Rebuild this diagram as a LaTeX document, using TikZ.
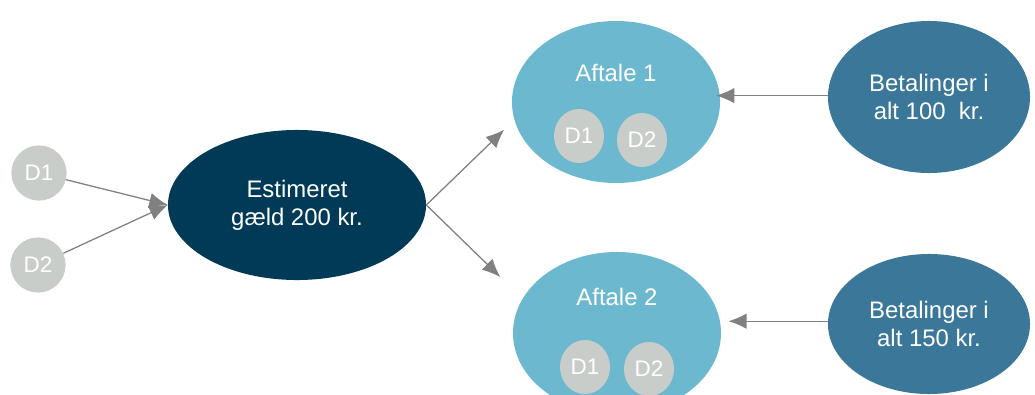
\documentclass[tikz,border=0pt]{standalone}
\usepackage{fontspec}
\setmainfont{Liberation Sans}
\usepackage{tikz}
\usetikzlibrary{shapes.geometric,arrows.meta}
\definecolor{navy}{HTML}{003A57}
\definecolor{skyblue}{HTML}{6CB9CF}
\definecolor{steelblue}{HTML}{3A7798}
\definecolor{lightgray}{HTML}{C9CDCA}
\definecolor{arrowgray}{HTML}{808080}

\begin{document}
\begin{tikzpicture}[
  x=0.025cm, y=-0.025cm,
  debt/.style={circle, fill=lightgray, minimum size=1.38cm, inner sep=0pt, text=white, font=\fontsize{16}{19}\selectfont},
  smalldebt/.style={ellipse, fill=lightgray, minimum width=1.25cm, minimum height=1.35cm, inner sep=0pt, text=white, font=\fontsize{16}{19}\selectfont},
  total/.style={ellipse, fill=navy, minimum width=6.45cm, minimum height=3.75cm, inner sep=0pt, align=center, text=white, font=\fontsize{17}{20}\selectfont},
  deal/.style={ellipse, fill=skyblue, minimum width=5.2cm, minimum height=4.05cm, inner sep=0pt},
  dealtitle/.style={text=white, inner sep=0pt, font=\fontsize{17}{20}\selectfont},
  pay/.style={ellipse, fill=steelblue, minimum width=5.05cm, minimum height=3.5cm, inner sep=0pt, align=center, text=white, font=\fontsize{17}{20}\selectfont},
  arrow/.style={-{Latex[length=13pt,width=11pt]}, draw=arrowgray, fill=arrowgray, line width=0.9pt}
]
\useasboundingbox (0,0) rectangle (1035,395);

\node[debt] (dl1) at (39,173) {D1};
\node[debt] (dl2) at (38,265) {D2};
\node[total] (est) at (297,205) {Estimeret\\gæld 200 kr.};

\node[deal] (aft1) at (616,102) {};
\node[dealtitle] (aft1t) at (616,73) {Aftale 1};
\node[smalldebt] (a1d1) at (579,136) {D1};
\node[smalldebt] (a1d2) at (642,140) {D2};

\node[deal] (aft2) at (617,333) {};
\node[dealtitle] (aft2t) at (617,297) {Aftale 2};
\node[smalldebt] (a2d1) at (585,367) {D1};
\node[smalldebt] (a2d2) at (649,369) {D2};

\node[pay, minimum height=3.8cm] (bet1) at (929,97) {Betalinger i\\alt 100\ \ kr.};
\node[pay] (bet2) at (929,324) {Betalinger i\\alt 150 kr.};

\draw[arrow] (dl1) -- (est.west);
\draw[arrow] (dl2) -- (est.west);
\draw[arrow, shorten >=10pt] (est.east) -- (aft1.190);
\draw[arrow, shorten >=22pt] (est.east) -- (aft2.160);
\draw[arrow, shorten >=-3pt] ([yshift=1pt]bet1.west) -- ([yshift=1pt]bet1.west -| aft1.east);
\draw[arrow, shorten >=5pt] ([yshift=2pt]bet2.west) -- ([yshift=2pt]bet2.west -| aft2.east);
\end{tikzpicture}
\end{document}
